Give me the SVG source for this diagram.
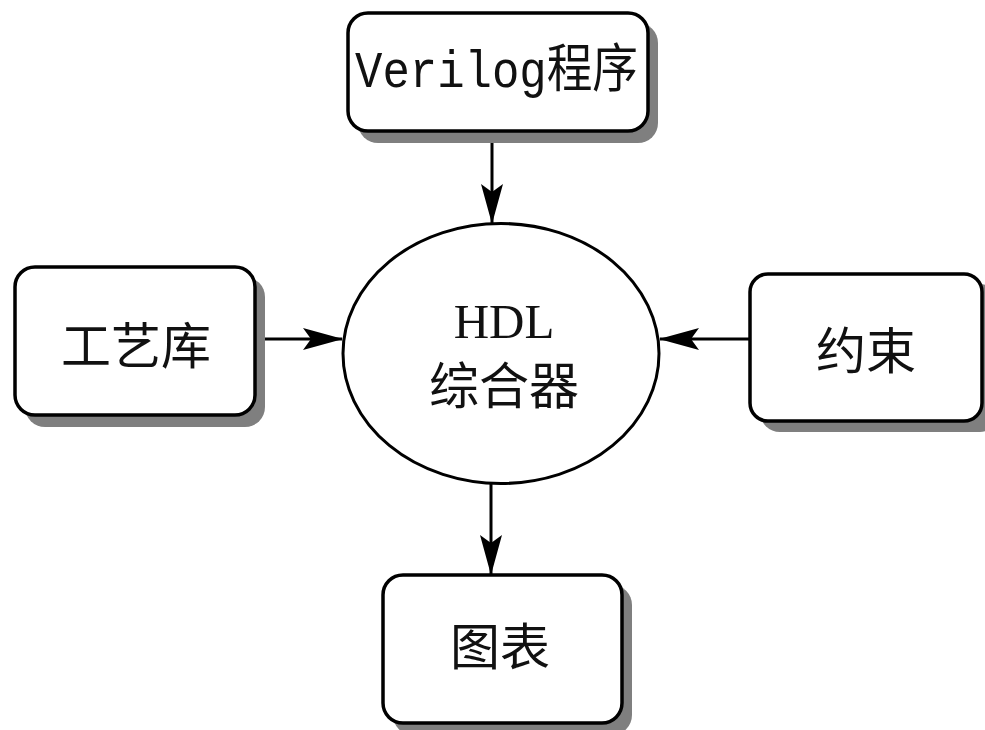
<svg xmlns="http://www.w3.org/2000/svg" width="985" height="730" viewBox="0 0 985 730">
  <style>
    .shadow { fill: #7f7f7f; stroke: none; }
    .box { fill: #ffffff; stroke: #000000; stroke-width: 3.5; }
    .cjk { font-family: "Noto Sans CJK SC", "Noto Sans", sans-serif; font-size: 50px; fill: #111111; text-anchor: middle; }
    .edge { stroke: #000000; stroke-width: 3; fill: none; marker-end: url(#arrow); }
  </style>
  <defs>
    <marker id="arrow" viewBox="0 0 40 24" markerUnits="userSpaceOnUse" markerWidth="40" markerHeight="24" refX="39" refY="12" orient="auto">
      <path d="M0,1 L40,12 L0,23 L8,12 Z" fill="#000000"/>
    </marker>
  </defs>
  <rect width="985" height="730" fill="#ffffff"/>

  <g id="connectors">
    <line class="edge" x1="492" y1="131" x2="492" y2="223"/>
    <line class="edge" x1="255" y1="339" x2="342" y2="339"/>
    <line class="edge" x1="750" y1="339" x2="660" y2="339"/>
    <line class="edge" x1="491" y1="483" x2="491" y2="574"/>
  </g>

  <g id="verilog">
    <rect class="shadow" x="358" y="23" width="300" height="120" rx="20"/>
    <rect class="box" x="348" y="13" width="300" height="118" rx="20"/>
    <text x="355" y="87" font-size="52" textLength="283" lengthAdjust="spacingAndGlyphs" font-family="Liberation Mono, Noto Sans CJK SC, monospace" fill="#111111">Verilog程序</text>
  </g>

  <g id="gongyiku">
    <rect class="shadow" x="25" y="277" width="240" height="150" rx="20"/>
    <rect class="box" x="15" y="267" width="240" height="148" rx="20"/>
    <text class="cjk" x="136" y="364">工艺库</text>
  </g>

  <g id="yueshu">
    <rect class="shadow" x="760" y="284" width="240" height="148" rx="20"/>
    <rect class="box" x="750" y="274" width="232" height="147" rx="18"/>
    <text class="cjk" x="866" y="369">约束</text>
  </g>

  <g id="tubiao">
    <rect class="shadow" x="393" y="585" width="239" height="150" rx="20"/>
    <rect class="box" x="383" y="575" width="239" height="148" rx="20"/>
    <text class="cjk" x="500" y="665">图表</text>
  </g>

  <g id="hdl">
    <ellipse cx="501" cy="353.5" rx="158" ry="130" fill="#ffffff" stroke="#000000" stroke-width="3"/>
    <text x="504" y="338" font-family="Liberation Serif, serif" font-size="49" text-anchor="middle" fill="#111111">HDL</text>
    <text class="cjk" x="504" y="404">综合器</text>
  </g>
</svg>
